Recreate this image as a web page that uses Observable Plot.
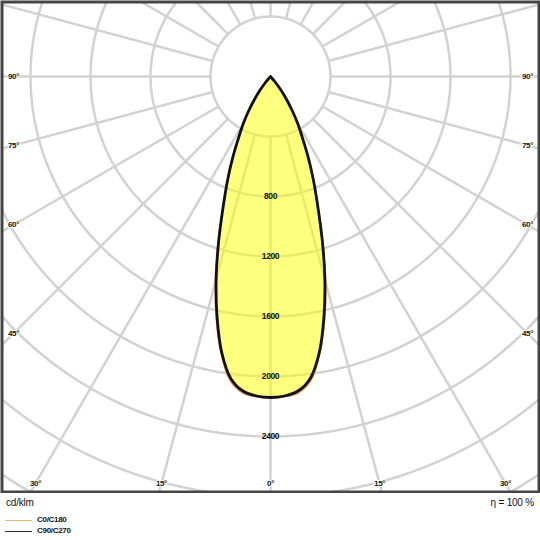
<!DOCTYPE html>
<html>
<head>
<meta charset="utf-8">
<script src="https://cdn.jsdelivr.net/npm/d3@7"></script>
<script src="https://cdn.jsdelivr.net/npm/@observablehq/plot@0.6"></script>
<style>
  html, body { margin: 0; padding: 0; background: #fff; }
  body { width: 540px; height: 540px; overflow: hidden; font-family: "Liberation Sans", Arial, sans-serif; }
  #chart svg text { letter-spacing: -0.4px; }
  #foot { position: relative; width: 540px; height: 47px; }
  #foot .t { position: absolute; color: #111; white-space: nowrap; }
  #foot .big { font-size: 10px; line-height: 12px; top: 4px; letter-spacing: -0.2px; }
  #foot .leg { font-size: 8px; line-height: 10px; font-weight: bold; letter-spacing: -0.3px; left: 37px; }
  #foot .ln { position: absolute; left: 5px; width: 27px; height: 0; }
</style>
</head>
<body>
<div id="chart"></div>
<div id="foot">
  <div class="t big" style="left:6px">cd/klm</div>
  <div class="t big" style="right:6px">η = 100 %</div>
  <div class="ln" style="top:27px;border-top:1px solid #f2b46a"></div>
  <div class="t leg" style="top:22px">C0/C180</div>
  <div class="ln" style="top:38px;border-top:1px solid #333"></div>
  <div class="t leg" style="top:33px">C90/C270</div>
</div>
<script>
// ---- data (cd/klm) ----
const gamma   = [0, 2.5, 5, 7.5, 10, 12.5, 15, 17.5, 20, 22.5, 25, 27.5, 30, 32.5, 35, 37.5, 40, 42.5];
const c0c180  = [2140, 2136, 2118, 2048, 1885, 1665, 1420, 1162, 928, 750, 596, 462, 365, 270, 186, 114, 50, 0];
const c90c270 = [2140, 2132, 2105, 2030, 1870, 1645, 1400, 1148, 922, 748, 595, 461, 364, 269, 185, 114, 50, 0];

const rings = [400, 800, 1200, 1600, 2000, 2400, 2800, 3200, 3600];
const ringLabels = [800, 1200, 1600, 2000, 2400];
const spokeAngles = [0, 15, 30, 45, 60, 75, 90, 105, 120, 135, 150, 165, 180, 195, 210, 225, 240, 255, 270, 285, 300, 315, 330, 345];
const sideLabelAngles = [90, 75, 60, 45];
const bottomLabelAngles = [30, 15, 0];

// layout constants (scale units: cd/klm)
const W = 540, H = 493;
const pxPerUnit = 60 / 400;
const centerPx = 76;
const sideLabelX = (W / 2 - 13) / pxPerUnit;
const bottomLabelY = (483 - centerPx) / pxPerUnit;

const rad = d => d * Math.PI / 180;
const polar = (r, a) => ({x: r * Math.sin(rad(a)), y: r * Math.cos(rad(a))});

function curve(values) {
  const pts = [];
  for (let i = gamma.length - 1; i > 0; i--) pts.push(polar(values[i], -gamma[i]));
  for (let i = 0; i < gamma.length; i++) pts.push(polar(values[i], gamma[i]));
  return pts;
}

const ringPts = rings.flatMap(r => d3.range(0, 361, 2).map(a => ({...polar(r, a), ring: r})));
const spokes = spokeAngles.map(a => ({a, p1: polar(rings[0], a), p2: polar(5000, a)}));
const ringText = ringLabels.map(v => ({x: 0, y: v, t: String(v)}));
const sideText = sideLabelAngles.flatMap(a => [-1, 1].map(s => ({
  x: s * sideLabelX, y: a === 90 ? 0 : sideLabelX / Math.tan(rad(a)), t: a + "°"
})));
const bottomText = bottomLabelAngles.flatMap(a => (a === 0 ? [1] : [-1, 1]).map(s => ({
  x: s * bottomLabelY * Math.tan(rad(a)), y: bottomLabelY, t: a + "°"
})));

const c0Pts = curve(c0c180);
const c90Pts = curve(c90c270);

const grid = "#d2d2d2";
const plot = Plot.plot({
  width: W, height: H,
  marginTop: 1.5, marginLeft: 1.5, marginRight: 1.5, marginBottom: 1.5,
  x: {domain: [-W / 2 / pxPerUnit, W / 2 / pxPerUnit], range: [0, W], axis: null},
  y: {domain: [-centerPx / pxPerUnit, (H - centerPx) / pxPerUnit], range: [0, H], axis: null},
  style: {fontFamily: "'Liberation Sans', Arial, sans-serif", background: "#fff"},
  marks: [
    Plot.line(ringPts, {x: "x", y: "y", z: "ring", stroke: grid, strokeWidth: 2.5, clip: "frame"}),
    Plot.link(spokes, {x1: d => d.p1.x, y1: d => d.p1.y, x2: d => d.p2.x, y2: d => d.p2.y, stroke: grid, strokeWidth: 2.5, clip: "frame"}),
    Plot.line(c90Pts, {x: "x", y: "y", curve: "catmull-rom", fill: "#ffff00", fillOpacity: 0.5, stroke: "none"}),
    Plot.line(c0Pts, {x: "x", y: "y", curve: "catmull-rom", stroke: "#ee9a3c", strokeWidth: 1.6}),
    Plot.line(c90Pts, {x: "x", y: "y", curve: "catmull-rom", stroke: "#111", strokeWidth: 2.8}),
    Plot.text(ringText, {x: "x", y: "y", text: "t", fontSize: 8.5, fontWeight: "bold", fill: "#111"}),
    Plot.text(sideText, {x: "x", y: "y", text: "t", fontSize: 8, fontWeight: "bold", fill: "#111", stroke: "#fff", strokeWidth: 2}),
    Plot.text(bottomText, {x: "x", y: "y", text: "t", fontSize: 8, fontWeight: "bold", fill: "#111", stroke: "#fff", strokeWidth: 2}),
    Plot.frame({stroke: "#454545", strokeWidth: 3})
  ]
});
document.getElementById("chart").appendChild(plot);
</script>
</body>
</html>
